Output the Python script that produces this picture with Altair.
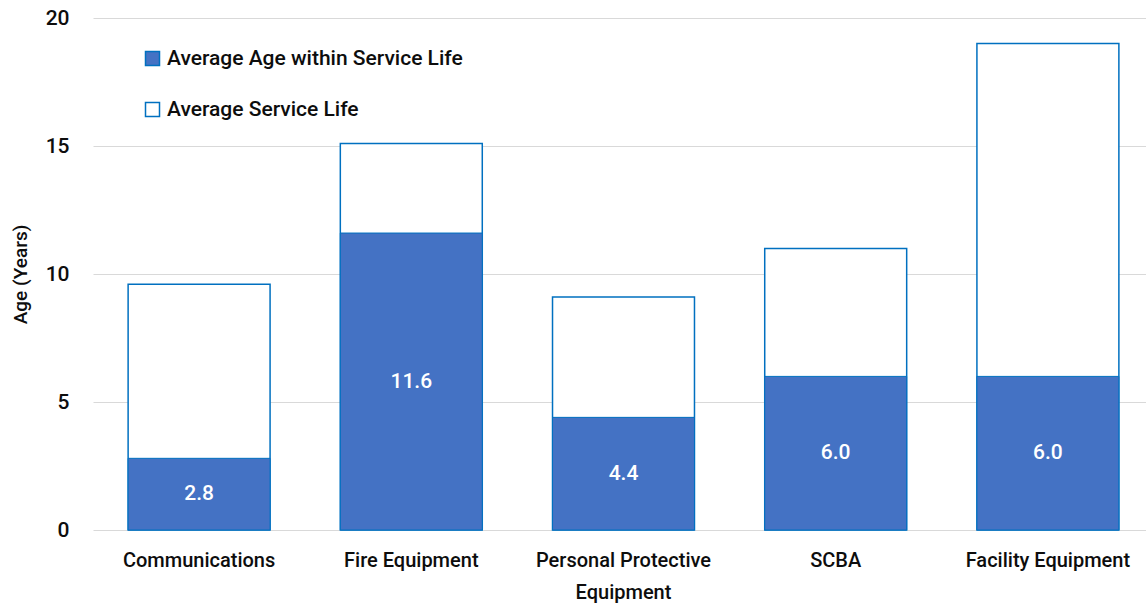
import altair as alt
import pandas as pd

categories = ["Communications", "Fire Equipment", "Personal Protective Equipment", "SCBA", "Facility Equipment"]
service_life = [9.6, 15.1, 9.1, 11.0, 19.0]
avg_age = [2.8, 11.6, 4.4, 6.0, 6.0]
series_names = ["Average Age within Service Life", "Average Service Life"]

rows = []
for c, s, a in zip(categories, service_life, avg_age):
    rows.append({"category": c, "series": series_names[1], "value": s})
    rows.append({"category": c, "series": series_names[0], "value": a})
df = pd.DataFrame(rows)
df_age = pd.DataFrame({"category": categories, "value": avg_age, "half": [v / 2 for v in avg_age]})

FONT = "Roboto, sans-serif"
BLUE = "#4472C4"
EDGE = "#0070C0"
TXT = "#0d0d0d"

x_scale = alt.Scale(paddingInner=0.331, paddingOuter=0.1655, range=[0, 1061])

x_enc = alt.X(
    "category:N",
    sort=categories,
    scale=x_scale,
    axis=alt.Axis(
        title=None,
        labelAngle=0,
        labelFontSize=20,
        labelFont=FONT,
        labelFontWeight=500,
        labelColor=TXT,
        labelPadding=20,
        labelLineHeight=32,
        labelLimit=0,
        labelExpr="datum.label == 'Personal Protective Equipment' ? ['Personal Protective', 'Equipment'] : datum.label",
        ticks=False,
        domain=False,
        grid=False,
    ),
)

y_scale = alt.Scale(domain=[0, 20])
y_axis = alt.Axis(
    title="Age (Years)",
    titleFont=FONT,
    titleFontSize=19,
    titleFontWeight=500,
    titleColor=TXT,
    titleX=-73,
    titleY=256,
    titleAngle=-90,
    titleAlign="center",
    titleBaseline="middle",
    values=[0, 5, 10, 15, 20],
    labelFontSize=21,
    labelFont=FONT,
    labelFontWeight=500,
    labelColor=TXT,
    labelPadding=24,
    ticks=False,
    domain=False,
    grid=True,
    gridColor="#d9d9d9",
    gridWidth=1,
)

color = alt.Color(
    "series:N",
    scale=alt.Scale(domain=series_names, range=[BLUE, "#ffffff"]),
    legend=alt.Legend(
        title=None,
        orient="none",
        legendX=49,
        legendY=30,
        symbolType="square",
        symbolSize=196,
        symbolStrokeColor=EDGE,
        symbolStrokeWidth=1.5,
        labelFont=FONT,
        labelFontSize=21,
        labelFontWeight=500,
        labelColor=TXT,
        labelOffset=4,
        labelLimit=0,
        rowPadding=29,
    ),
)

life_bars = alt.Chart(df).transform_filter(
    alt.datum.series == series_names[1]
).mark_bar(stroke=EDGE, strokeWidth=1.5).encode(
    x=x_enc,
    y=alt.Y("value:Q", scale=y_scale, axis=y_axis, stack=None),
    color=color,
)

age_bars = alt.Chart(df).transform_filter(
    alt.datum.series == series_names[0]
).mark_bar(stroke=EDGE, strokeWidth=1).encode(
    x=x_enc,
    y=alt.Y("value:Q", scale=y_scale, stack=None),
    color=color,
)

labels = alt.Chart(df_age).mark_text(
    color="white", font=FONT, fontSize=21, fontWeight=500, baseline="middle", align="center"
).encode(
    x=alt.X("category:N", sort=categories),
    y=alt.Y("half:Q", scale=y_scale),
    text=alt.Text("value:Q", format=".1f"),
)

chart = alt.layer(life_bars, age_bars, labels).properties(
    width=1053,
    height=512,
    background="white",
    autosize=alt.AutoSizeParams(type="none"),
    padding={"left": 93, "top": 18, "right": 0, "bottom": 75},
).configure_view(stroke=None)

chart.save("out.html", embed_options={"renderer": "svg", "actions": False})
